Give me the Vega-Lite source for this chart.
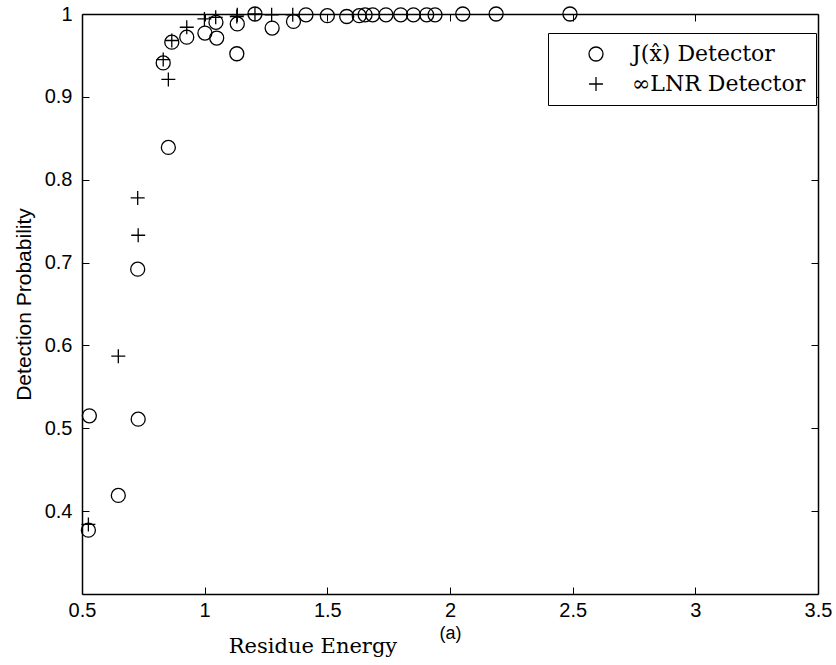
{
  "$schema": "https://vega.github.io/schema/vega-lite/v6.json",
  "width": 736,
  "height": 580,
  "autosize": {"type": "none"},
  "padding": {"left": 82, "top": 14, "right": 18, "bottom": 71},
  "background": "white",
  "title": {"text": "Residue Energy", "orient": "bottom", "anchor": "middle", "frame": "group", "dx": -137, "offset": -6, "font": "DejaVu Serif", "fontSize": 21, "fontWeight": "normal", "color": "black"},
  "data": {"values": [
    {"E": 0.526, "P": 0.377, "detector": "J(x\u0302) Detector"},
    {"E": 0.530, "P": 0.515, "detector": "J(x\u0302) Detector"},
    {"E": 0.648, "P": 0.419, "detector": "J(x\u0302) Detector"},
    {"E": 0.729, "P": 0.511, "detector": "J(x\u0302) Detector"},
    {"E": 0.727, "P": 0.692, "detector": "J(x\u0302) Detector"},
    {"E": 0.852, "P": 0.839, "detector": "J(x\u0302) Detector"},
    {"E": 0.831, "P": 0.941, "detector": "J(x\u0302) Detector"},
    {"E": 0.866, "P": 0.966, "detector": "J(x\u0302) Detector"},
    {"E": 0.927, "P": 0.972, "detector": "J(x\u0302) Detector"},
    {"E": 1.001, "P": 0.977, "detector": "J(x\u0302) Detector"},
    {"E": 1.046, "P": 0.990, "detector": "J(x\u0302) Detector"},
    {"E": 1.049, "P": 0.971, "detector": "J(x\u0302) Detector"},
    {"E": 1.131, "P": 0.952, "detector": "J(x\u0302) Detector"},
    {"E": 1.133, "P": 0.988, "detector": "J(x\u0302) Detector"},
    {"E": 1.205, "P": 1.0, "detector": "J(x\u0302) Detector"},
    {"E": 1.275, "P": 0.983, "detector": "J(x\u0302) Detector"},
    {"E": 1.362, "P": 0.991, "detector": "J(x\u0302) Detector"},
    {"E": 1.413, "P": 0.999, "detector": "J(x\u0302) Detector"},
    {"E": 1.500, "P": 0.998, "detector": "J(x\u0302) Detector"},
    {"E": 1.579, "P": 0.997, "detector": "J(x\u0302) Detector"},
    {"E": 1.630, "P": 0.998, "detector": "J(x\u0302) Detector"},
    {"E": 1.654, "P": 0.999, "detector": "J(x\u0302) Detector"},
    {"E": 1.685, "P": 0.999, "detector": "J(x\u0302) Detector"},
    {"E": 1.739, "P": 0.999, "detector": "J(x\u0302) Detector"},
    {"E": 1.799, "P": 0.999, "detector": "J(x\u0302) Detector"},
    {"E": 1.851, "P": 0.999, "detector": "J(x\u0302) Detector"},
    {"E": 1.905, "P": 0.999, "detector": "J(x\u0302) Detector"},
    {"E": 1.939, "P": 0.999, "detector": "J(x\u0302) Detector"},
    {"E": 2.052, "P": 1.0, "detector": "J(x\u0302) Detector"},
    {"E": 2.188, "P": 1.0, "detector": "J(x\u0302) Detector"},
    {"E": 2.489, "P": 1.0, "detector": "J(x\u0302) Detector"},
    {"E": 0.526, "P": 0.384, "detector": "\u221eLNR Detector"},
    {"E": 0.648, "P": 0.587, "detector": "\u221eLNR Detector"},
    {"E": 0.729, "P": 0.733, "detector": "\u221eLNR Detector"},
    {"E": 0.727, "P": 0.778, "detector": "\u221eLNR Detector"},
    {"E": 0.831, "P": 0.945, "detector": "\u221eLNR Detector"},
    {"E": 0.852, "P": 0.921, "detector": "\u221eLNR Detector"},
    {"E": 0.866, "P": 0.968, "detector": "\u221eLNR Detector"},
    {"E": 0.927, "P": 0.984, "detector": "\u221eLNR Detector"},
    {"E": 0.999, "P": 0.994, "detector": "\u221eLNR Detector"},
    {"E": 1.045, "P": 0.996, "detector": "\u221eLNR Detector"},
    {"E": 1.131, "P": 0.997, "detector": "\u221eLNR Detector"},
    {"E": 1.133, "P": 0.999, "detector": "\u221eLNR Detector"},
    {"E": 1.205, "P": 1.0, "detector": "\u221eLNR Detector"},
    {"E": 1.273, "P": 0.999, "detector": "\u221eLNR Detector"},
    {"E": 1.359, "P": 0.999, "detector": "\u221eLNR Detector"}
  ]},
  "layer": [
    {
      "mark": {"type": "point", "filled": false, "size": 196, "strokeWidth": 1.3, "color": "black", "opacity": 1},
      "encoding": {
        "x": {"field": "E", "type": "quantitative", "scale": {"domain": [0.5, 3.5], "nice": false, "zero": false},
          "axis": {"orient": "bottom", "values": [0.5, 1, 1.5, 2, 2.5, 3, 3.5], "format": "~g", "title": "(a)", "titleFont": "Liberation Sans", "titleFontSize": 18, "titleFontWeight": "normal", "titleColor": "black", "titlePadding": 4,
            "labelFont": "Liberation Sans", "labelFontSize": 20, "labelColor": "black", "tickSize": -7, "labelPadding": 13, "domainColor": "black", "domainWidth": 1.5, "tickColor": "black", "tickWidth": 1, "grid": false, "labelFlush": false, "labelOverlap": false}},
        "y": {"field": "P", "type": "quantitative", "scale": {"domain": [0.3, 1], "nice": false, "zero": false},
          "axis": {"orient": "left", "values": [0.4, 0.5, 0.6, 0.7, 0.8, 0.9, 1], "format": "~g", "title": "Detection Probability", "titleFont": "Liberation Sans", "titleFontSize": 21, "titleFontWeight": "normal", "titleColor": "black", "titlePadding": 10,
            "labelFont": "Liberation Sans", "labelFontSize": 20, "labelColor": "black", "tickSize": -7, "labelPadding": 17, "domainColor": "black", "domainWidth": 1.5, "tickColor": "black", "tickWidth": 1, "grid": false, "labelFlush": false, "labelOverlap": false}},
        "shape": {"field": "detector", "type": "nominal",
          "scale": {"domain": ["J(x\u0302) Detector", "\u221eLNR Detector"], "range": ["circle", "M-1,0H1M0,-1V1"]},
          "legend": {"orient": "none", "legendX": 466, "legendY": 19, "title": null, "padding": 10, "strokeColor": "black", "fillColor": "white", "cornerRadius": 0,
            "labelFont": "DejaVu Serif", "labelFontSize": 22, "labelColor": "black", "symbolSize": 196, "symbolStrokeWidth": 1.3, "symbolStrokeColor": "black", "symbolFillColor": "transparent", "symbolOffset": 27, "labelOffset": 25, "rowPadding": 8, "labelLimit": 0}}
      }
    },
    {
      "mark": {"type": "point", "opacity": 0},
      "encoding": {
        "x": {"field": "E", "type": "quantitative",
          "axis": {"orient": "top", "values": [0.5, 1, 1.5, 2, 2.5, 3, 3.5], "labels": false, "title": null, "tickSize": -7, "domainColor": "black", "domainWidth": 1.5, "tickColor": "black", "tickWidth": 1, "grid": false}},
        "y": {"field": "P", "type": "quantitative",
          "axis": {"orient": "right", "values": [0.4, 0.5, 0.6, 0.7, 0.8, 0.9, 1], "labels": false, "title": null, "tickSize": -7, "domainColor": "black", "domainWidth": 1.5, "tickColor": "black", "tickWidth": 1, "grid": false}}
      }
    }
  ],
  "resolve": {"axis": {"x": "independent", "y": "independent"}},
  "config": {"view": {"stroke": null}}
}
